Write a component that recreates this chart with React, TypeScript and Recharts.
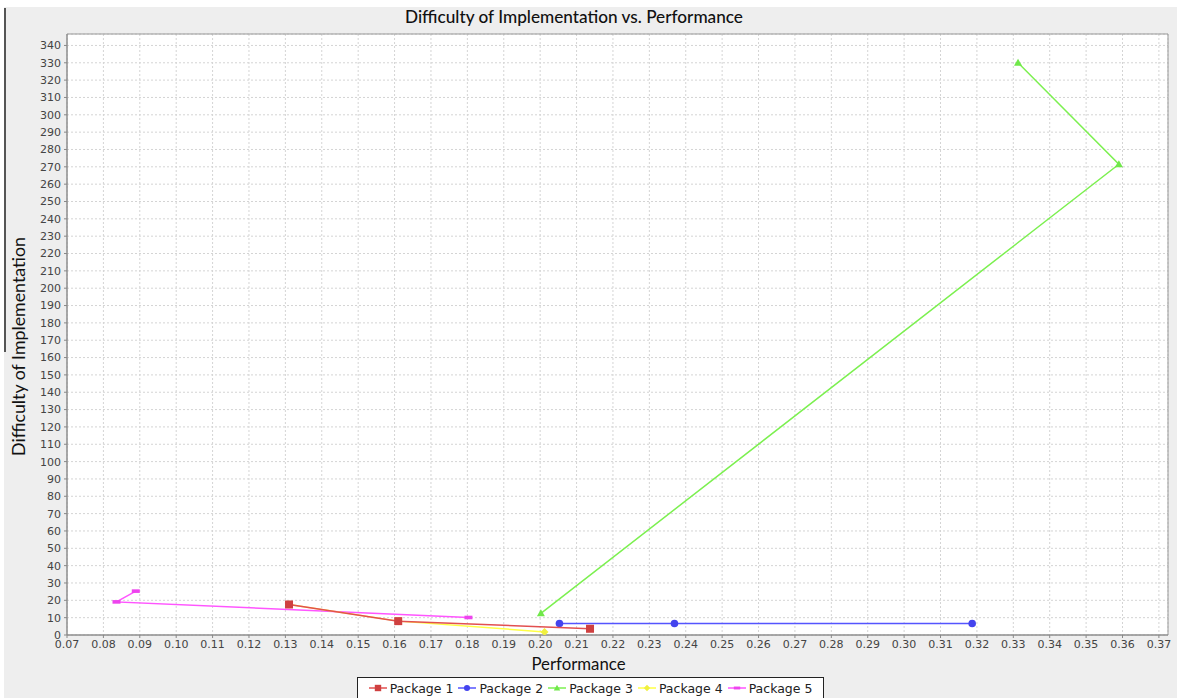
import React from 'react';
import { ScatterChart, Scatter, XAxis, YAxis, CartesianGrid, ReferenceArea, Label } from 'recharts';

// ---- data ----
const seriesNames = ['Package 1', 'Package 2', 'Package 3', 'Package 4', 'Package 5'];
const package1 = [
  { x: 0.131, y: 17.6 },
  { x: 0.161, y: 8.0 },
  { x: 0.2137, y: 3.6 },
];
const package2 = [
  { x: 0.2053, y: 6.6 },
  { x: 0.2369, y: 6.6 },
  { x: 0.3187, y: 6.6 },
];
const package3 = [
  { x: 0.2002, y: 12.5 },
  { x: 0.359, y: 271.5 },
  { x: 0.3313, y: 330 },
];
const package4 = [
  { x: 0.131, y: 17.6 },
  { x: 0.161, y: 8.0 },
  { x: 0.2012, y: 1.8 },
];
const package5 = [
  { x: 0.0889, y: 25.3 },
  { x: 0.0836, y: 19.1 },
  { x: 0.1803, y: 10.1 },
];
const xTicks = [0.07, 0.08, 0.09, 0.1, 0.11, 0.12, 0.13, 0.14, 0.15, 0.16, 0.17, 0.18, 0.19, 0.2, 0.21, 0.22, 0.23, 0.24, 0.25, 0.26, 0.27, 0.28, 0.29, 0.3, 0.31, 0.32, 0.33, 0.34, 0.35, 0.36, 0.37];
const yTicks = [0, 10, 20, 30, 40, 50, 60, 70, 80, 90, 100, 110, 120, 130, 140, 150, 160, 170, 180, 190, 200, 210, 220, 230, 240, 250, 260, 270, 280, 290, 300, 310, 320, 330, 340];
const xDomain = [0.07, 0.3725];
const yDomain = [0, 346.6];

const colors = ['#e25050', '#5555ff', '#7cf050', '#ffff44', '#ff55ff'];
const markerColors = ['#cf4040', '#4444ee', '#70e84a', '#f0f040', '#ee44ee'];

type MarkerKind = 'square' | 'circle' | 'triangle' | 'diamond' | 'hrect';
const markerKinds: MarkerKind[] = ['square', 'circle', 'triangle', 'diamond', 'hrect'];

function Marker({ kind, cx, cy, color }: { kind: MarkerKind; cx: number; cy: number; color: string }) {
  if (cx == null || cy == null) return null;
  switch (kind) {
    case 'square':
      return <rect x={cx - 4} y={cy - 4} width={8} height={8} fill={color} />;
    case 'circle':
      return <circle cx={cx} cy={cy} r={3.8} fill={color} />;
    case 'triangle':
      return <polygon points={`${cx},${cy - 4} ${cx + 4},${cy + 3} ${cx - 4},${cy + 3}`} fill={color} />;
    case 'diamond':
      return <polygon points={`${cx},${cy - 4} ${cx + 4},${cy} ${cx},${cy + 4} ${cx - 4},${cy}`} fill={color} />;
    case 'hrect':
      return <rect x={cx - 4} y={cy - 1.8} width={8} height={3.6} fill={color} />;
  }
  return null;
}

const allSeries = [package1, package2, package3, package4, package5];
const drawOrder = [4, 3, 2, 1, 0];

function LegendBox() {
  return (
    <div
      style={{
        position: 'absolute',
        left: 357,
        top: 677,
        width: 467,
        height: 22,
        boxSizing: 'border-box',
        border: '1px solid #222',
        background: '#fff',
        display: 'flex',
        alignItems: 'center',
        justifyContent: 'center',
        fontFamily: '"DejaVu Sans", sans-serif',
        fontSize: 12.5,
        color: '#222',
        gap: 5,
      }}
    >
      {seriesNames.map((name, i) => (
        <div key={name} style={{ display: 'flex', alignItems: 'center' }}>
          <svg width={18} height={10} style={{ marginRight: 3 }}>
            <line x1={0} y1={5} x2={18} y2={5} stroke={colors[i]} strokeWidth={1.5} />
            <g transform="translate(9,5) scale(0.8) translate(-9,-5)">
              <Marker kind={markerKinds[i]} cx={9} cy={5} color={markerColors[i]} />
            </g>
          </svg>
          <span>{name}</span>
        </div>
      ))}
    </div>
  );
}

export default function App() {
  return (
    <div style={{ position: 'absolute', left: 0, top: 0, width: 1177, height: 698, background: '#fff', overflow: 'hidden' }}>
      <div style={{ position: 'absolute', left: 4, top: 7, width: 1173, height: 691, background: '#eeeeee' }} />
      <div style={{ position: 'absolute', left: 4, top: 8, width: 2, height: 344, background: '#555' }} />
      <div
        style={{
          position: 'absolute',
          left: 0,
          top: 6,
          width: 1148,
          textAlign: 'center',
          fontFamily: 'Lato, sans-serif',
          fontSize: 17.2,
          color: '#111',
          fontWeight: 500,
        }}
      >
        Difficulty of Implementation vs. Performance
      </div>
      <div style={{ position: 'absolute', left: 0, top: 0 }}>
        <ScatterChart width={1177} height={698} margin={{ top: 34, right: 9, left: 0, bottom: 0 }}>
          <CartesianGrid stroke="#d4d4d4" strokeDasharray="2 2" fill="#ffffff" />
          <XAxis
            type="number"
            dataKey="x"
            domain={xDomain}
            ticks={xTicks}
            allowDataOverflow
            interval={0}
            height={63}
            tickFormatter={(v: number) => v.toFixed(2)}
            tick={{ fontFamily: '"DejaVu Sans", sans-serif', fontSize: 11, fill: '#444' }}
            stroke="#888"
            tickSize={3}
            tickMargin={2}
          >
            <Label
              value="Performance"
              position="insideBottom"
              offset={28}
              dx={-39}
              style={{ fontFamily: 'Lato, sans-serif', fontSize: 16.8, fill: '#111' }}
            />
          </XAxis>
          <YAxis
            type="number"
            dataKey="y"
            domain={yDomain}
            ticks={yTicks}
            allowDataOverflow
            interval={0}
            width={67}
            tick={{ fontFamily: '"DejaVu Sans", sans-serif', fontSize: 11, fill: '#444' }}
            stroke="#888"
            tickSize={3}
            tickMargin={3}
          >
            <Label
              value="Difficulty of Implementation"
              angle={-90}
              position="insideLeft"
              offset={19}
              dy={12}
              style={{ textAnchor: 'middle', fontFamily: 'Lato, sans-serif', fontSize: 17.8, fill: '#111' }}
            />
          </YAxis>
          <ReferenceArea x1={xDomain[0]} x2={xDomain[1]} y1={yDomain[0]} y2={yDomain[1]} fill="none" stroke="#999" strokeWidth={1} />
          {drawOrder.map((i) => (
            <Scatter
              key={seriesNames[i]}
              name={seriesNames[i]}
              data={allSeries[i]}
              line={{ stroke: colors[i], strokeWidth: 1.5 }}
              lineType="joint"
              isAnimationActive={false}
              fill={markerColors[i]}
              shape={(p: any) => <Marker kind={markerKinds[i]} cx={p.cx} cy={p.cy} color={markerColors[i]} />}
            />
          ))}
        </ScatterChart>
      </div>
      <LegendBox />
    </div>
  );
}
